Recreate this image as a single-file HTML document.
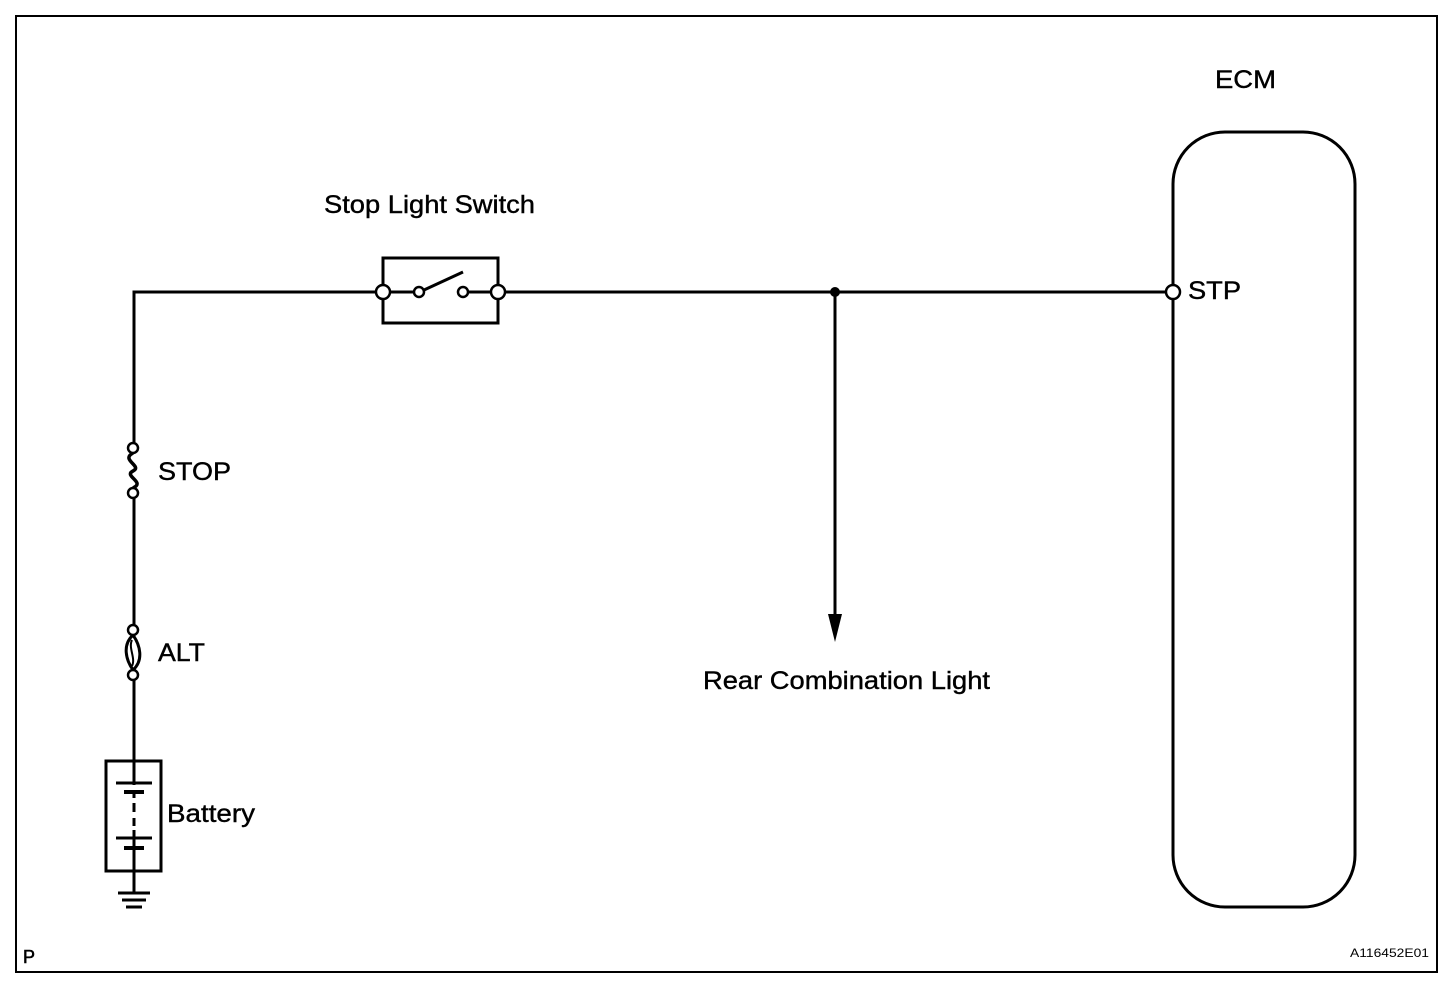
<!DOCTYPE html>
<html><head><meta charset="utf-8"><style>
html,body{margin:0;padding:0;background:#fff;}
svg{display:block;}
text{font-family:"Liberation Sans",Arial,sans-serif;fill:#000;}
</style></head><body>
<svg width="1456" height="986" viewBox="0 0 1456 986" xmlns="http://www.w3.org/2000/svg">
<g fill="none" stroke="#000" stroke-width="2">
<rect x="16" y="16" width="1421" height="956"/>
</g>
<g fill="none" stroke="#000" stroke-width="3">
<rect x="1173" y="132" width="182" height="775" rx="52" ry="52"/>
<polyline points="134,443 134,292 376,292"/>
<line x1="390" y1="292" x2="413" y2="292"/>
<line x1="468" y1="292" x2="491" y2="292"/>
<line x1="505" y1="292" x2="1166" y2="292"/>
<rect x="383" y="258" width="115" height="65"/>
<line x1="424" y1="290" x2="463" y2="272"/>
<line x1="835" y1="292" x2="835" y2="615"/>
<line x1="134" y1="498" x2="134" y2="625"/>
<line x1="134" y1="680" x2="134" y2="761"/>
<path d="M133,453 C120,460 143,466 133,471 C123,476 146,482 133,488" stroke-width="3.5"/>
<path d="M133,635 C122,645 126,660 133,670 M133,635 C140,645 144,660 133,670" stroke-width="3"/>
<path d="M132,640 C128,648 136,658 132,666" stroke-width="2"/>
<rect x="106" y="761" width="55" height="110"/>
<line x1="134" y1="761" x2="134" y2="785"/>
<line x1="134" y1="830" x2="134" y2="894"/>
<line x1="134" y1="803" x2="134" y2="812"/>
<line x1="134" y1="818" x2="134" y2="826"/>
<line x1="134" y1="791" x2="134" y2="798"/>
<line x1="134" y1="845" x2="134" y2="852"/>
<line x1="118" y1="893" x2="150" y2="893"/>
<line x1="122" y1="900" x2="146" y2="900"/>
<line x1="126" y1="907" x2="142" y2="907"/>
</g>
<g stroke="#000" stroke-width="3">
<line x1="116" y1="783" x2="152" y2="783"/>
<line x1="124" y1="792" x2="144" y2="792" stroke-width="4"/>
<line x1="116" y1="838" x2="152" y2="838"/>
<line x1="124" y1="848" x2="144" y2="848" stroke-width="4"/>
</g>
<g fill="#fff" stroke="#000" stroke-width="2.5">
<circle cx="383" cy="292" r="7"/>
<circle cx="498" cy="292" r="7"/>
<circle cx="419" cy="292" r="5"/>
<circle cx="463" cy="292" r="5"/>
<circle cx="1173" cy="292" r="7"/>
<circle cx="133" cy="448" r="5"/>
<circle cx="133" cy="493" r="5"/>
<circle cx="133" cy="630" r="5"/>
<circle cx="133" cy="675" r="5"/>
</g>
<circle cx="835" cy="292" r="5" fill="#000"/>
<polygon points="828,614 842,614 835,642" fill="#000"/>
<g font-size="25" stroke="#000" stroke-width="0.4">
<text x="1215" y="88" textLength="61" lengthAdjust="spacingAndGlyphs">ECM</text>
<text x="324" y="213" textLength="211" lengthAdjust="spacingAndGlyphs">Stop Light Switch</text>
<text x="1188" y="299" textLength="53" lengthAdjust="spacingAndGlyphs">STP</text>
<text x="158" y="480" textLength="73" lengthAdjust="spacingAndGlyphs">STOP</text>
<text x="158" y="661" textLength="47" lengthAdjust="spacingAndGlyphs">ALT</text>
<text x="167" y="822" textLength="88" lengthAdjust="spacingAndGlyphs">Battery</text>
<text x="703" y="689" textLength="287" lengthAdjust="spacingAndGlyphs">Rear Combination Light</text>
<text x="23" y="963" font-size="18" stroke-width="0.6">P</text>
</g>
<text x="1350" y="957" font-size="12" textLength="79" lengthAdjust="spacingAndGlyphs">A116452E01</text>
</svg>
</body></html>
